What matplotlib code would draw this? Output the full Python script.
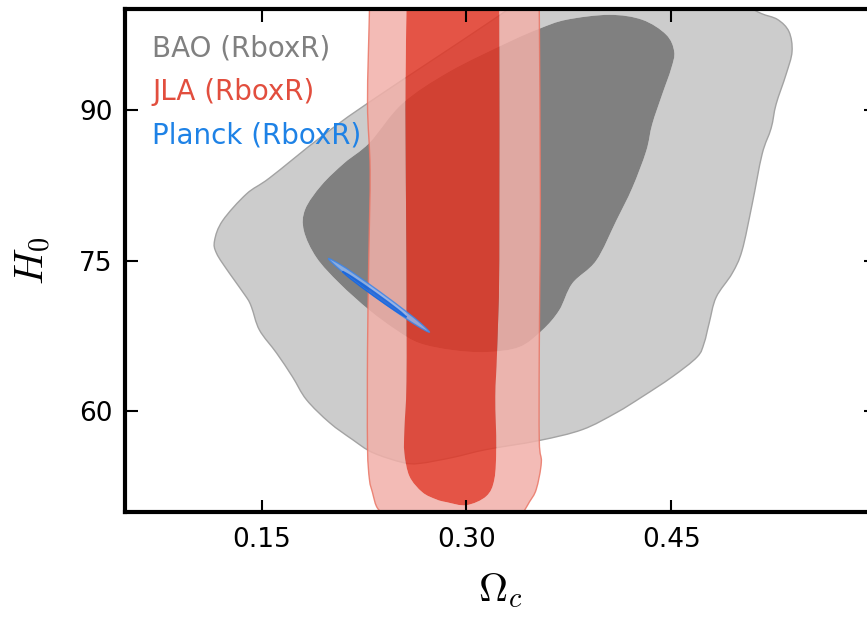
import numpy as np
import matplotlib
matplotlib.use("Agg")
import matplotlib.pyplot as plt
from matplotlib.path import Path
from matplotlib.patches import PathPatch

plt.rcParams["mathtext.fontset"] = "cm"
plt.rcParams["font.family"] = ["DejaVu Sans"]

# contour outlines: (Omega_c, H0) vertices
bao_outer = [
    (0.334, 101.0), (0.330, 99.92), (0.2276, 90.62), (0.1924, 87.16),
    (0.1559, 83.21), (0.1390, 81.62), (0.1215, 78.96), (0.1156, 76.98),
    (0.1171, 75.70), (0.1266, 73.71), (0.1390, 71.34), (0.1427, 70.35),
    (0.1485, 68.08), (0.1610, 65.80), (0.1727, 63.43), (0.1829, 61.16),
    (0.1998, 58.88), (0.2166, 57.20), (0.2312, 55.92), (0.2532, 54.93),
    (0.2656, 54.83), (0.2898, 55.42), (0.3146, 56.21), (0.3534, 57.11),
    (0.3849, 58.19), (0.4098, 59.87), (0.4288, 61.46), (0.4507, 63.43),
    (0.4690, 65.41), (0.4741, 66.79), (0.4778, 68.77), (0.4829, 71.34),
    (0.4946, 73.71), (0.5019, 75.99), (0.5093, 80.60), (0.5166, 85.58),
    (0.5232, 88.15), (0.5268, 90.52), (0.5341, 93.49), (0.5385, 95.76),
    (0.5363, 97.74), (0.5280, 98.95), (0.5160, 99.55), (0.5040, 100.4),
    (0.490, 101.3),
]
bao_inner = [
    (0.3534, 98.04), (0.3732, 98.93), (0.4046, 99.42), (0.4288, 98.93),
    (0.4463, 97.45), (0.4522, 95.76), (0.4500, 94.08), (0.4434, 91.51),
    (0.4361, 88.55), (0.4317, 85.88), (0.4215, 82.22), (0.4098, 78.96),
    (0.3951, 75.00), (0.3776, 72.73), (0.3680, 70.06), (0.3556, 68.08),
    (0.3388, 66.40), (0.3146, 65.90), (0.2898, 66.10), (0.2656, 66.79),
    (0.2488, 68.08), (0.2290, 70.06), (0.2071, 72.73), (0.1902, 75.30),
    (0.1810, 77.97), (0.1820, 80.10), (0.1940, 82.50), (0.2107, 84.70),
    (0.2290, 86.70), (0.2532, 90.62), (0.2876, 93.79), (0.3315, 96.75),
]
jla_outer = [
    (0.2290, 101.0), (0.2290, 99.72), (0.2276, 90.62), (0.2295, 84.0),
    (0.2285, 75.0), (0.2276, 66.0), (0.2276, 56.51), (0.2290, 53.25),
    (0.2312, 51.96), (0.2341, 50.58), (0.2385, 49.90), (0.2450, 49.50),
    (0.3350, 49.50), (0.3410, 49.90), (0.3461, 50.98), (0.3512, 52.26),
    (0.3549, 54.93), (0.3534, 57.11), (0.3534, 66.10), (0.3542, 81.0),
    (0.3534, 99.72), (0.3534, 101.0),
]
jla_inner = [
    (0.2568, 101.0), (0.2561, 99.70), (0.2554, 90.0), (0.2561, 75.0),
    (0.2561, 63.0), (0.2546, 58.19), (0.2546, 55.90), (0.2583, 53.55),
    (0.2678, 51.96), (0.2780, 51.25), (0.2854, 50.98), (0.3000, 50.68),
    (0.3146, 51.57), (0.3205, 53.25), (0.3219, 56.51), (0.3212, 61.46),
    (0.3225, 66.0), (0.3241, 75.0), (0.3241, 99.70), (0.3241, 101.0),
]
planck_outer = [
    (0.19902, 75.198), (0.20729, 74.629), (0.21878, 73.606), (0.23744, 71.811),
    (0.25573, 69.947), (0.26641, 68.776), (0.27292, 67.881), (0.26466, 68.449),
    (0.25317, 69.473), (0.23451, 71.267), (0.21622, 73.131), (0.20554, 74.303),
]
planck_inner = [
    (0.20927, 73.912), (0.21684, 73.334), (0.23345, 71.783), (0.24962, 70.150),
    (0.25609, 69.364), (0.24852, 69.942), (0.23191, 71.494), (0.21574, 73.126),
]

labels = ["BAO (RboxR)", "JLA (RboxR)", "Planck (RboxR)"]
label_colors = ["#808080", "#E24E3E", "#1E82E6"]
xticks = [0.15, 0.30, 0.45]
xticklabels = ["0.15", "0.30", "0.45"]
yticks = [60, 75, 90]


def signed_area(p):
    x, y = p[:, 0], p[:, 1]
    return 0.5 * np.sum(x * np.roll(y, -1) - np.roll(x, -1) * y)


def smooth_loop(p):
    # closed Catmull-Rom through the read vertices, as cubic Bezier segments
    n = len(p)
    verts = [p[0]]
    codes = [Path.MOVETO]
    for i in range(n):
        p0, p1, p2, p3 = p[i - 1], p[i], p[(i + 1) % n], p[(i + 2) % n]
        verts += [p1 + (p2 - p0) / 6.0, p2 - (p3 - p1) / 6.0, p2]
        codes += [Path.CURVE4] * 3
    return verts, codes


def loop_path(*loops):
    verts, codes = [], []
    sign0 = None
    for pts in loops:
        p = np.asarray(pts, dtype=float)
        s = np.sign(signed_area(p))
        if sign0 is None:
            sign0 = s
        elif s == sign0:
            p = p[::-1]
        v, c = smooth_loop(p)
        verts += v
        codes += c
    return Path(np.asarray(verts), codes)


def draw_contours(ax, outer, inner, c_outer, c_inner, alpha, edge, lw_edge, inner_edge=None):
    ax.add_patch(PathPatch(loop_path(outer, inner), facecolor=c_outer,
                           edgecolor="none", alpha=alpha))
    ax.add_patch(PathPatch(loop_path(inner), facecolor=c_inner,
                           edgecolor="none", alpha=alpha))
    ax.add_patch(PathPatch(loop_path(outer), facecolor="none",
                           edgecolor=edge, lw=lw_edge, alpha=alpha))
    if inner_edge is not None:
        ax.add_patch(PathPatch(loop_path(inner), facecolor="none",
                               edgecolor=inner_edge, lw=lw_edge, alpha=alpha))


fig = plt.figure(figsize=(8.67, 6.18), dpi=100)
ax = fig.add_axes([0.14418, 0.17152, 0.8662, 0.8139])

draw_contours(ax, bao_outer, bao_inner, "#cccccc", "#808080", 1.0, "#a3a3a3", 1.0)
draw_contours(ax, jla_outer, jla_inner, "#F1B0A9", "#E03626", 0.85, "#EA7666", 1.0)
draw_contours(ax, planck_outer, planck_inner, "#8FB6F0", "#1565E0", 0.85, "#3D85E8", 1.0,
              inner_edge="#1565E0")

ax.set_xlim(0.05, 0.60)
ax.set_ylim(50, 100)
ax.set_xticks(xticks)
ax.set_xticklabels(xticklabels)
ax.set_yticks(yticks)
ax.tick_params(direction="in", length=9, width=1.5, labelsize=19, pad=9,
               top=True, right=True)
ax.tick_params(axis="x", pad=11)
for sp in ax.spines.values():
    sp.set_linewidth(3)

ax.set_xlabel(r"$\Omega_c$", fontsize=29, labelpad=12)
ax.set_ylabel(r"$H_0$", fontsize=29, labelpad=19)

for k, (lab, col) in enumerate(zip(labels, label_colors)):
    ax.text(0.036, 0.9046 - k * 0.0855, lab, color=col, fontsize=20,
            transform=ax.transAxes, va="baseline", ha="left")

fig.savefig("out.png", dpi=100)
